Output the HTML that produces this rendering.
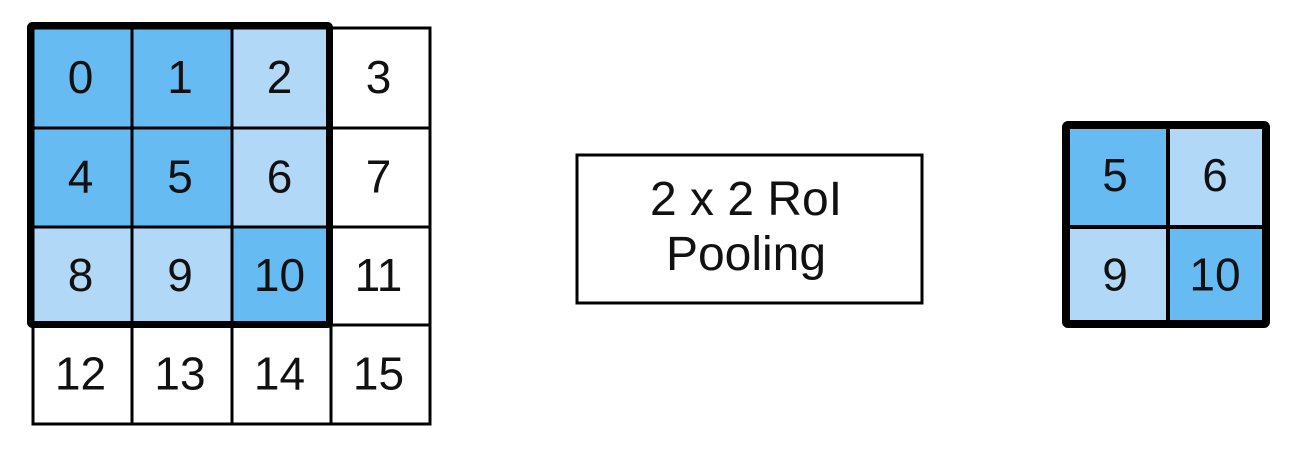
<!DOCTYPE html>
<html><head><meta charset="utf-8"><style>
body{margin:0;background:#fff;width:1296px;height:454px;overflow:hidden}
svg text{font-family:"Liberation Sans",sans-serif;fill:#111}
</style></head><body>
<svg width="1296" height="454">
<g id="grid"></g>
<rect x="30.5" y="25.5" width="299" height="299" fill="none" stroke="#000" stroke-width="7" rx="2"/>
<g>
<rect x="577" y="155" width="345" height="148" fill="#fff" stroke="#000" stroke-width="3"/>
<text x="746" y="215" font-size="48" text-anchor="middle">2 x 2 RoI</text>
<text x="746" y="270" font-size="48" text-anchor="middle">Pooling</text>
</g>
<g id="out"></g>
<script>
const values=[0,1,2,3,4,5,6,7,8,9,10,11,12,13,14,15];
const shade=[2,2,1,0,2,2,1,0,1,1,2,0,0,0,0,0];
const outValues=[5,6,9,10];
const outShade=[2,1,1,2];
const colors=['#ffffff','#b2d8f7','#66bbf3'];
const NS='http://www.w3.org/2000/svg';
const xs=[33,132,232,331,430], ys=[28,128,227,325,424];
const g=document.getElementById('grid');
values.forEach((v,i)=>{
 const c=i%4,r=Math.floor(i/4);
 const rect=document.createElementNS(NS,'rect');
 rect.setAttribute('x',xs[c]);rect.setAttribute('y',ys[r]);
 rect.setAttribute('width',xs[c+1]-xs[c]);rect.setAttribute('height',ys[r+1]-ys[r]);
 rect.setAttribute('fill',colors[shade[i]]);rect.setAttribute('stroke','#000');rect.setAttribute('stroke-width','3');
 
 
 g.appendChild(rect);
 const t=document.createElementNS(NS,'text');
 t.setAttribute('x',(xs[c]+xs[c+1])/2-2);t.setAttribute('y',(ys[r]+ys[r+1])/2+15);
 t.setAttribute('font-size','46');t.setAttribute('text-anchor','middle');
 t.textContent=v;
 
 
 g.appendChild(t);
});
const o=document.getElementById('out');
const ox=[1066,1168,1266], oy=[125,227,324];
outValues.forEach((v,i)=>{
 const c=i%2,r=Math.floor(i/2);
 const rect=document.createElementNS(NS,'rect');
 rect.setAttribute('x',ox[c]);rect.setAttribute('y',oy[r]);
 rect.setAttribute('width',ox[c+1]-ox[c]);rect.setAttribute('height',oy[r+1]-oy[r]);
 rect.setAttribute('fill',colors[outShade[i]]);rect.setAttribute('stroke','#000');rect.setAttribute('stroke-width','4');
 
 
 o.appendChild(rect);
 const t=document.createElementNS(NS,'text');
 t.setAttribute('x',(ox[c]+ox[c+1])/2-2);t.setAttribute('y',(oy[r]+oy[r+1])/2+15);
 t.setAttribute('font-size','46');t.setAttribute('text-anchor','middle');
 t.textContent=v;
 
 
 o.appendChild(t);
});
const b=document.createElementNS(NS,'rect');
b.setAttribute('x',1066);b.setAttribute('y',125);b.setAttribute('width',200);b.setAttribute('height',199);
b.setAttribute('fill','none');b.setAttribute('stroke','#000');b.setAttribute('stroke-width','8');b.setAttribute('rx','2');


o.appendChild(b);
</script>
</svg>
</body></html>
